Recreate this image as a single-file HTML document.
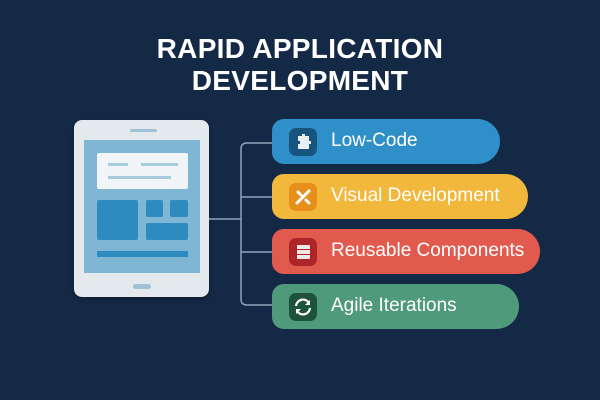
<!DOCTYPE html>
<html><head><meta charset="utf-8"><style>
html,body{margin:0;padding:0}
body{width:600px;height:400px;background:#142946;position:relative;overflow:hidden;font-family:"Liberation Sans",sans-serif}
.t{position:absolute;left:0;width:600px;text-align:center;color:#fff;font-weight:bold;font-size:28px;letter-spacing:0.3px}
.a{position:absolute}
.pill{position:absolute;left:272px;height:45px;border-radius:0 23px 23px 0;border-top-left-radius:12px;border-bottom-left-radius:12px}
.pill span{position:absolute;left:59px;top:11px;color:#fff;font-size:19px;white-space:nowrap}
.ic{position:absolute;left:17px;top:9px;width:28px;height:28px;border-radius:7px}
</style></head><body>
<div class="t" style="top:33px">RAPID APPLICATION</div>
<div class="t" style="top:65px">DEVELOPMENT</div>

<div class="a" style="left:74px;top:120px;width:135px;height:177px;background:#e4e9ee;border-radius:8px;box-shadow:0 2px 4px rgba(0,0,0,.3)"></div>
<div class="a" style="left:130px;top:129px;width:27px;height:3px;background:#9fc2d8;border-radius:2px"></div>
<div class="a" style="left:84px;top:140px;width:116px;height:133px;background:#7eb6d3"></div>
<div class="a" style="left:97px;top:153px;width:91px;height:36px;background:#f2f5f7;border-radius:2px"></div>
<div class="a" style="left:108px;top:163px;width:20px;height:3px;background:#a9c9dc"></div>
<div class="a" style="left:141px;top:163px;width:37px;height:3px;background:#a9c9dc"></div>
<div class="a" style="left:108px;top:176px;width:63px;height:3px;background:#a9c9dc"></div>
<div class="a" style="left:97px;top:200px;width:41px;height:40px;background:#2e8bc0;border-radius:2px"></div>
<div class="a" style="left:146px;top:200px;width:17px;height:17px;background:#2e8bc0;border-radius:2px"></div>
<div class="a" style="left:170px;top:200px;width:18px;height:17px;background:#2e8bc0;border-radius:2px"></div>
<div class="a" style="left:146px;top:223px;width:42px;height:17px;background:#2e8bc0;border-radius:2px"></div>
<div class="a" style="left:97px;top:251px;width:91px;height:6px;background:#2e8bc0"></div>
<div class="a" style="left:133px;top:284px;width:18px;height:5px;background:#9fc2d8;border-radius:3px"></div>

<svg class="a" style="left:0;top:0" width="600" height="400">
<g stroke="#8fa6ba" stroke-width="1.5" fill="none">
<path d="M209 219H241"/>
<path d="M272 143H247Q241 143 241 149V299Q241 305 247 305H272"/>
<path d="M241 197H272M241 252H272"/>
</g></svg>

<div class="pill" style="top:119px;width:228px;background:#2f8fc8"><div class="ic" style="background:#17557f"><svg width="28" height="28"><path d="M9 8h4v-2h3v2h4v5h2v3h-2v5H9v-5h2v-3H9z" fill="#e8eef2"/></svg></div><span>Low-Code</span></div>
<div class="pill" style="top:174px;width:256px;background:#f1b83b"><div class="ic" style="background:#e68f1a"><svg width="28" height="28"><g stroke="#fff" stroke-width="3" stroke-linecap="round"><path d="M8 20L20 8"/><path d="M9 9l3 3M17 17l3 3"/></g></svg></div><span>Visual Development</span></div>
<div class="pill" style="top:229px;width:268px;background:#e25a4e"><div class="ic" style="background:#ad2429"><svg width="28" height="28"><g fill="#f3e6e6"><rect x="8" y="7" width="13" height="4"/><rect x="8" y="12" width="13" height="4"/><rect x="8" y="17" width="13" height="4"/></g></svg></div><span>Reusable Components</span></div>
<div class="pill" style="top:284px;width:247px;background:#4f9a7a"><div class="ic" style="background:#1d5439"><svg width="28" height="28"><g stroke="#fff" stroke-width="2.2" fill="none"><path d="M7 13a7 7 0 0 1 13-3"/><path d="M21 15a7 7 0 0 1-13 3"/></g><path d="M21 7v5h-5z M7 21v-5h5z" fill="#fff"/></svg></div><span>Agile Iterations</span></div>
</body></html>
